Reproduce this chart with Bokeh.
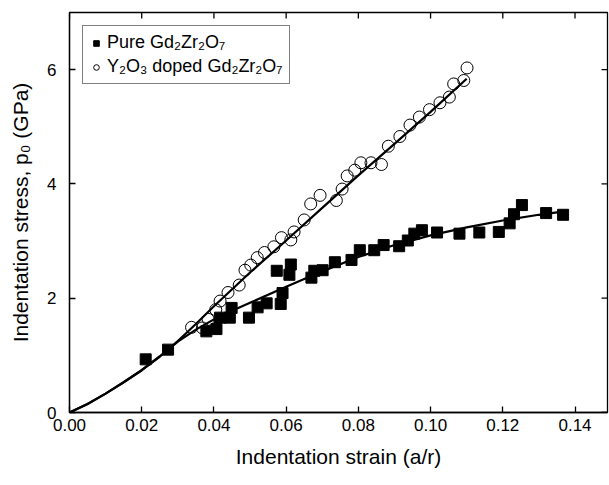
import math
from bokeh.plotting import figure
from bokeh.models import (FixedTicker, NumeralTickFormatter, Legend, LegendItem, Range1d)
from bokeh.embed import file_html
from bokeh.resources import INLINE

# ---- data ----
pure_x = [0.0211, 0.0273, 0.0379, 0.0407, 0.0417, 0.0444, 0.0449, 0.0497, 0.0521, 0.0546,
          0.0574, 0.0585, 0.0590, 0.0609, 0.0613, 0.0670, 0.0678, 0.0701, 0.0735, 0.0781,
          0.0804, 0.0844, 0.0870, 0.0913, 0.0937, 0.0955, 0.0976, 0.1018, 0.1080, 0.1135,
          0.1189, 0.1219, 0.1231, 0.1253, 0.1320, 0.1367]
pure_y = [0.93, 1.10, 1.42, 1.46, 1.66, 1.66, 1.83, 1.66, 1.84, 1.91,
          2.48, 1.90, 2.09, 2.41, 2.59, 2.36, 2.48, 2.49, 2.63, 2.67,
          2.84, 2.84, 2.93, 2.91, 3.01, 3.13, 3.19, 3.15, 3.13, 3.15,
          3.16, 3.31, 3.47, 3.63, 3.49, 3.46]

doped_x = [0.0338, 0.0368, 0.0384, 0.0405, 0.0417, 0.0439, 0.0470, 0.0486, 0.0502, 0.0520,
           0.0540, 0.0566, 0.0587, 0.0613, 0.0622, 0.0650, 0.0668, 0.0694, 0.0739, 0.0755,
           0.0769, 0.0790, 0.0807, 0.0835, 0.0864, 0.0883, 0.0915, 0.0943, 0.0969, 0.0997,
           0.1026, 0.1052, 0.1064, 0.1092, 0.1101]
doped_y = [1.49, 1.48, 1.63, 1.80, 1.95, 2.10, 2.23, 2.49, 2.58, 2.71,
           2.80, 2.90, 3.06, 3.02, 3.16, 3.37, 3.65, 3.80, 3.71, 3.91,
           4.14, 4.24, 4.37, 4.37, 4.34, 4.66, 4.83, 5.03, 5.17, 5.30,
           5.42, 5.52, 5.75, 5.81, 6.03]

# fitted curves
fit_pure_x = [0.0, 0.005, 0.01, 0.015, 0.02, 0.025, 0.03, 0.035, 0.04, 0.045, 0.05, 0.06,
              0.07, 0.08, 0.09, 0.10, 0.11, 0.12, 0.13, 0.137]
fit_pure_y = [0.0, 0.15, 0.33, 0.53, 0.74, 0.98, 1.24, 1.45, 1.63, 1.78, 1.92, 2.20,
              2.47, 2.72, 2.93, 3.10, 3.24, 3.36, 3.46, 3.52]
fit_doped_x = [0.0, 0.005, 0.01, 0.015, 0.02, 0.025, 0.03, 0.035, 0.04, 0.05, 0.06, 0.07,
               0.08, 0.09, 0.10, 0.11]
fit_doped_y = [0.0, 0.15, 0.33, 0.53, 0.74, 0.98, 1.25, 1.55, 1.86, 2.45, 3.01, 3.58,
               4.15, 4.70, 5.26, 5.84]

x_ticks = [0.0, 0.02, 0.04, 0.06, 0.08, 0.10, 0.12, 0.14]
y_ticks = [0, 2, 4, 6]
x_max = 0.149
y_max = 7

FONT = "Liberation Sans"

p = figure(width=609, height=485, output_backend="svg", toolbar_location=None,
           x_range=Range1d(0, x_max), y_range=Range1d(0, y_max),
           min_border_left=69, min_border_right=2, min_border_top=12, min_border_bottom=73)
p.grid.visible = False
p.outline_line_color = "black"
p.outline_line_width = 1.3
p.background_fill_color = "white"
p.border_fill_color = "white"

xa = p.xaxis[0]
ya = p.yaxis[0]
xa.ticker = FixedTicker(ticks=x_ticks)
ya.ticker = FixedTicker(ticks=y_ticks)
xa.formatter = NumeralTickFormatter(format="0.00")
xa.axis_label = "Indentation strain (a/r)"
ya.axis_label = "Indentation stress, p\u2080 (GPa)"
for ax in (xa, ya):
    ax.major_tick_in = 6
    ax.major_tick_out = 0
    ax.minor_tick_line_color = None
    ax.axis_line_width = 1.3
    ax.major_tick_line_width = 1.3
    ax.major_label_text_font = FONT
    ax.major_label_text_font_size = "17px"
    ax.major_label_text_color = "black"
    ax.axis_label_text_font = FONT
    ax.axis_label_text_font_size = "21px"
    ax.axis_label_text_font_style = "normal"
    ax.axis_label_text_color = "black"
xa.major_label_standoff = 6
xa.axis_label_standoff = 11
ya.major_label_standoff = 13
ya.axis_label_standoff = 12

# mirrored inward ticks on top and right edges
p.ray(x=x_ticks, y=[y_max] * len(x_ticks), length=6, length_units="screen",
      angle=-math.pi / 2, line_color="black", line_width=1.3)
p.ray(x=[x_max] * len(y_ticks), y=y_ticks, length=6, length_units="screen",
      angle=math.pi, line_color="black", line_width=1.3)

# fit lines
p.line(fit_doped_x, fit_doped_y, line_color="black", line_width=2.2)
p.line(fit_pure_x, fit_pure_y, line_color="black", line_width=2.2)

# data
r_pure = p.scatter(pure_x, pure_y, marker="square", size=11, fill_color="black", line_color="black")
r_doped = p.scatter(doped_x, doped_y, marker="circle", size=12, fill_color=None,
                    line_color="black", line_width=1)

legend = Legend(items=[
    LegendItem(label="Pure Gd\u2082Zr\u2082O\u2087", renderers=[r_pure]),
    LegendItem(label="Y\u2082O\u2083 doped Gd\u2082Zr\u2082O\u2087", renderers=[r_doped]),
], location="top_left")
legend.margin = 13
legend.padding = 6
legend.spacing = 3
legend.label_height = 18
legend.glyph_height = 18
legend.glyph_width = 14
legend.label_standoff = 4
legend.label_text_font = FONT
legend.label_text_font_size = "18px"
legend.label_text_color = "black"
legend.border_line_color = "black"
legend.border_line_width = 1
legend.background_fill_color = "white"
legend.background_fill_alpha = 1
p.add_layout(legend)

open("out.html", "w").write(file_html(p, INLINE))
